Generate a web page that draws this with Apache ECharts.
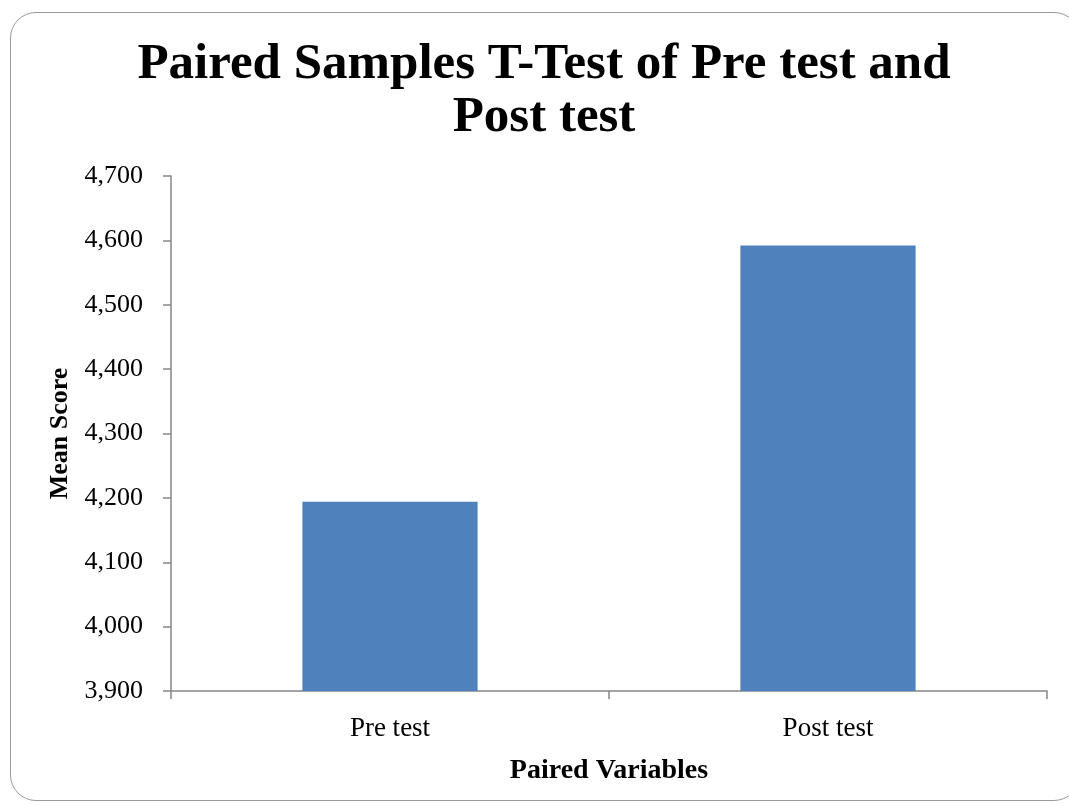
<!DOCTYPE html>
<html>
<head>
<meta charset="utf-8">
<script src="https://cdn.jsdelivr.net/npm/echarts@6/dist/echarts.min.js"></script>
<style>
  html, body { margin: 0; padding: 0; background: #fff; }
  #frame { position: absolute; left: 10px; top: 12px; width: 1070px; height: 789px; border: 1.5px solid #9a9a9a; border-radius: 26px; box-sizing: border-box; }
  #chart { position: absolute; left: 0; top: 0; width: 1069px; height: 806px; }
</style>
</head>
<body>
<div id="frame"></div>
<div id="chart"></div>
<script>
const titleText = 'Paired Samples T-Test of Pre test and\nPost test';
const categories = ['Pre test', 'Post test'];
const meanScores = [4194, 4592];
const yMin = 3900, yMax = 4700, yStep = 100;

const serif = '"Liberation Serif", "DejaVu Serif", serif';
const chart = echarts.init(document.getElementById('chart'), null, { renderer: 'canvas' });
chart.setOption({
  animation: false,
  backgroundColor: 'transparent',
  title: {
    text: titleText,
    left: 539,
    textAlign: 'center',
    top: 33,
    textStyle: { fontFamily: serif, fontWeight: 'bold', fontSize: 51, lineHeight: 53, color: '#000' }
  },
  grid: { left: 171, right: 22, top: 176, bottom: 115, containLabel: false },
  xAxis: {
    type: 'category',
    data: categories,
    name: 'Paired Variables',
    nameLocation: 'middle',
    nameGap: 66,
    nameTextStyle: { fontFamily: serif, fontWeight: 'bold', fontSize: 28, color: '#000', verticalAlign: 'top' },
    axisLine: { lineStyle: { color: '#868686', width: 1.5 } },
    axisTick: { show: true, length: 8, lineStyle: { color: '#868686', width: 1.5 } },
    axisLabel: { fontFamily: serif, fontSize: 27, color: '#000', margin: 24 }
  },
  yAxis: {
    type: 'value',
    min: yMin,
    max: yMax,
    interval: yStep,
    name: 'Mean Score',
    nameLocation: 'middle',
    nameGap: 89,
    nameRotate: 90,
    nameTextStyle: { fontFamily: serif, fontWeight: 'bold', fontSize: 26, color: '#000' },
    axisLine: { show: true, lineStyle: { color: '#868686', width: 1.5 } },
    axisTick: { show: true, length: 8, lineStyle: { color: '#868686', width: 1.5 } },
    splitLine: { show: false },
    axisLabel: {
      fontFamily: serif, fontSize: 26, color: '#000', margin: 28,
      formatter: v => v.toLocaleString('en-US')
    }
  },
  series: [{
    type: 'bar',
    data: meanScores,
    barWidth: '40%',
    itemStyle: { color: '#4F81BD' }
  }]
});
</script>
</body>
</html>
